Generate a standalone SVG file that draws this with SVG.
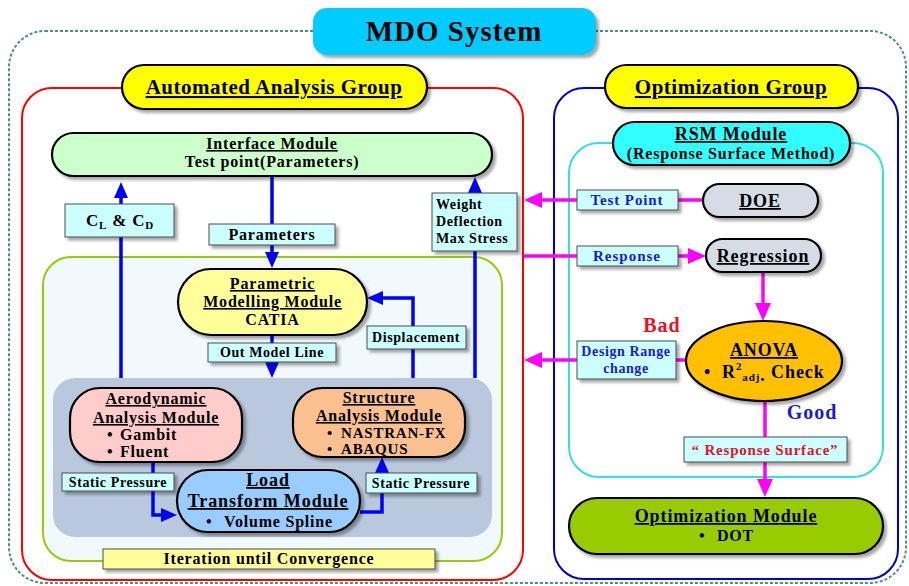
<svg xmlns="http://www.w3.org/2000/svg" width="909" height="586" viewBox="0 0 909 586">
<defs>
<filter id="sh" x="-10%" y="-10%" width="130%" height="140%">
<feDropShadow dx="3" dy="3" stdDeviation="1.8" flood-color="#000" flood-opacity="0.35"/>
</filter>
<marker id="ab" markerUnits="userSpaceOnUse" markerWidth="16" markerHeight="14" refX="8" refY="7" orient="auto">
<path d="M0,0 L16,7 L0,14 z" fill="#0000ff"/>
</marker>
<marker id="am" markerUnits="userSpaceOnUse" markerWidth="18" markerHeight="16" refX="9" refY="8" orient="auto">
<path d="M0,0 L18,8 L0,16 z" fill="#ff00ff"/>
</marker>
<style>
text{font-family:"Liberation Serif","Times New Roman",serif;font-weight:bold;fill:#000}
.c{text-anchor:middle}
.u{text-decoration:underline}
.m16{font-size:16px;letter-spacing:0.8px}
.m18{font-size:18px;letter-spacing:0.9px}
.g20{font-size:20px;letter-spacing:1px}
.g21{font-size:21px;letter-spacing:0.5px}
.l14{font-size:14px;letter-spacing:0.6px}
.l15{font-size:15px;letter-spacing:0.8px}
.blue{fill:#1a1ad8}
.red{fill:#e8102a}
.pill{stroke:#000;stroke-width:2.2;filter:url(#sh)}
.lbl{fill:#ccffff;stroke:#4a4a4a;stroke-width:1;filter:url(#sh)}
.bl{fill:none;stroke:#0000ff;stroke-width:3.5;marker-end:url(#ab)}
.mga{fill:none;stroke:#ff00ff;stroke-width:3.5;marker-end:url(#am)}
</style>
</defs>
<rect width="909" height="586" fill="#ffffff"/>

<g id="containers">
<rect x="9" y="31" width="897" height="552" rx="36" fill="none" stroke="#4f8f80" stroke-width="2" stroke-dasharray="3 2"/>
<rect x="22" y="88" width="501" height="492" rx="30" fill="#ffffff" stroke="#ff0000" stroke-width="2"/>
<rect x="554" y="88" width="344" height="491" rx="30" fill="#ffffff" stroke="#0000cc" stroke-width="2"/>
<rect x="569" y="143" width="314" height="334" rx="30" fill="#ffffff" stroke="#33e0e0" stroke-width="2"/>
<rect x="43" y="257" width="459" height="304" rx="28" fill="#f2f9fd" stroke="#99cc00" stroke-width="2"/>
<rect x="53" y="378" width="439" height="159" rx="22" fill="#b9c8dd"/>
</g>

<g id="mdo-system">
<rect x="313" y="8" width="283" height="47" rx="14" fill="#00ccff" filter="url(#sh)"/>
<text x="454" y="41" class="c" style="font-size:29px;letter-spacing:1px">MDO System</text>
</g>

<g id="connectors">
<line x1="121" y1="378" x2="121" y2="190" class="bl"/>
<line x1="272" y1="176" x2="272" y2="260" class="bl"/>
<line x1="272" y1="335" x2="272" y2="370" class="bl"/>
<polyline points="413,378 413,298 375,298" class="bl"/>
<line x1="475" y1="378" x2="475" y2="185" class="bl"/>
<polyline points="153,462 153,515 169,515" class="bl"/>
<polyline points="360,512 382,512 382,465" class="bl"/>
<line x1="703" y1="200" x2="533" y2="200" class="mga"/>
<line x1="524" y1="256" x2="697" y2="256" class="mga"/>
<line x1="763" y1="272" x2="763" y2="312" class="mga"/>
<line x1="687" y1="360" x2="533" y2="360" class="mga"/>
<line x1="765" y1="401" x2="765" y2="488" class="mga"/>
</g>

<g id="automated-analysis-group">
<rect x="122" y="65" width="305" height="44" rx="22" fill="#ffff00" class="pill"/>
<text x="274" y="94" class="c u g21">Automated Analysis Group</text>
</g>

<g id="optimization-group">
<rect x="605" y="65" width="253" height="43" rx="21.5" fill="#ffff00" class="pill"/>
<text x="731" y="94" class="c u g21">Optimization Group</text>
</g>

<g id="interface-module">
<rect x="52" y="133" width="440" height="43" rx="21.5" fill="#ccffcc" class="pill"/>
<text x="272" y="149" class="c u m16">Interface Module</text>
<text x="272" y="167" class="c m16">Test point(Parameters)</text>
</g>

<g id="label-cl-cd">
<rect x="65" y="204" width="109" height="33" class="lbl"/>
<text x="120" y="226" class="c" style="font-size:17px;letter-spacing:0.8px">C<tspan font-size="11" dy="3">L</tspan><tspan dy="-3"> &amp; C</tspan><tspan font-size="11" dy="3">D</tspan></text>
</g>

<g id="label-parameters">
<rect x="209" y="224" width="126" height="21" class="lbl"/>
<text x="272" y="240" class="c m16">Parameters</text>
</g>

<g id="label-weight">
<rect x="432" y="193" width="85" height="58" class="lbl"/>
<text x="436" y="209" class="l14">Weight</text>
<text x="436" y="226" class="l14">Deflection</text>
<text x="436" y="243" class="l14">Max Stress</text>
</g>

<g id="parametric-module">
<rect x="178" y="269" width="189" height="66" rx="33" fill="#ffff99" class="pill"/>
<text x="272.5" y="289" class="c u m16">Parametric</text>
<text x="272.5" y="307" class="c u m16">Modelling Module</text>
<text x="272.5" y="325" class="c m16">CATIA</text>
</g>

<g id="label-displacement">
<rect x="367" y="326" width="99" height="23" class="lbl"/>
<text x="416" y="342" class="c l14">Displacement</text>
</g>

<g id="label-out-model-line">
<rect x="208" y="343" width="128" height="19" class="lbl"/>
<text x="272" y="357" class="c l14">Out Model Line</text>
</g>

<g id="aerodynamic-module">
<rect x="70" y="388" width="172" height="74" rx="30" fill="#ffcccc" class="pill"/>
<text x="156" y="404" class="c u m16">Aerodynamic</text>
<text x="156" y="423" class="c u m16">Analysis Module</text>
<text x="107" y="440" class="m16">•</text>
<text x="120" y="440" class="m16">Gambit</text>
<text x="107" y="457" class="m16">•</text>
<text x="120" y="457" class="m16">Fluent</text>
</g>

<g id="structure-module">
<rect x="293" y="388" width="172" height="69" rx="30" fill="#fac090" class="pill"/>
<text x="379" y="403" class="c u m16">Structure</text>
<text x="379" y="421" class="c u m16">Analysis Module</text>
<text x="327" y="438" class="l15">•</text>
<text x="341" y="438" class="l15">NASTRAN-FX</text>
<text x="327" y="454" class="l15">•</text>
<text x="341" y="454" class="l15">ABAQUS</text>
</g>

<g id="load-transform-module">
<rect x="177" y="470" width="183" height="62" rx="31" fill="#99ccff" class="pill"/>
<text x="268" y="486" class="c u m18">Load</text>
<text x="268" y="507" class="c u m18">Transform Module</text>
<text x="206" y="527" class="m16">•</text>
<text x="224" y="527" class="m16">Volume Spline</text>
</g>

<g id="label-static-pressure-left">
<rect x="62" y="473" width="112" height="18" class="lbl"/>
<text x="118" y="487" class="c l14">Static Pressure</text>
</g>

<g id="label-static-pressure-right">
<rect x="366" y="473" width="111" height="20" class="lbl"/>
<text x="421" y="488" class="c l14">Static Pressure</text>
</g>

<g id="label-iteration">
<rect x="103" y="549" width="332" height="20" fill="#ffff99" stroke="#4a4a4a" stroke-width="1" filter="url(#sh)"/>
<text x="269" y="564" class="c m16">Iteration until Convergence</text>
</g>

<g id="rsm-module">
<rect x="613" y="122" width="237" height="43" rx="21.5" fill="#33ffff" class="pill"/>
<text x="731" y="140" class="c u m18">RSM Module</text>
<text x="731" y="159" class="c m16">(Response Surface Method)</text>
</g>

<g id="label-test-point">
<rect x="577" y="190" width="101" height="20" class="lbl"/>
<text x="627" y="205" class="c blue" style="font-size:15px;letter-spacing:0.9px">Test Point</text>
</g>

<g id="doe">
<rect x="703" y="184" width="115" height="33" rx="16.5" fill="#d6dce6" class="pill"/>
<text x="760" y="207" class="c u m18">DOE</text>
</g>

<g id="label-response">
<rect x="577" y="246" width="101" height="20" class="lbl"/>
<text x="627" y="261" class="c blue" style="font-size:15px;letter-spacing:1px">Response</text>
</g>

<g id="regression">
<rect x="706" y="239" width="115" height="33" rx="16.5" fill="#d6dce6" class="pill"/>
<text x="763" y="262" class="c u m18">Regression</text>
</g>

<g id="anova">
<ellipse cx="764" cy="361" rx="78" ry="40" fill="#ffc000" stroke="#000" stroke-width="2.2" filter="url(#sh)"/>
<text x="764" y="356" class="c u m18">ANOVA</text>
<text x="704" y="378" class="m18">•</text>
<text x="722" y="378" class="m18">R<tspan font-size="11" dy="-8">2</tspan><tspan font-size="11" dy="11">adj</tspan><tspan dy="0">.</tspan><tspan dy="-3"> Check</tspan></text>
</g>

<g id="label-bad">
<text x="662" y="332" class="c red g20">Bad</text>
</g>

<g id="label-design-range">
<rect x="577" y="341" width="99" height="38" class="lbl"/>
<text x="626" y="356" class="c blue l14">Design Range</text>
<text x="626" y="373" class="c blue l14">change</text>
</g>

<g id="label-good">
<text x="812" y="419" class="c blue g20">Good</text>
</g>

<g id="label-response-surface">
<rect x="684" y="437" width="163" height="25" class="lbl"/>
<text x="765" y="455" class="c red l15">“ Response Surface”</text>
</g>

<g id="optimization-module">
<rect x="569" y="498" width="314" height="56" rx="28" fill="#99cc00" class="pill"/>
<text x="726" y="522" class="c u m18">Optimization Module</text>
<text x="699" y="541" class="m16">•</text>
<text x="717" y="541" class="m16">DOT</text>
</g>
</svg>
